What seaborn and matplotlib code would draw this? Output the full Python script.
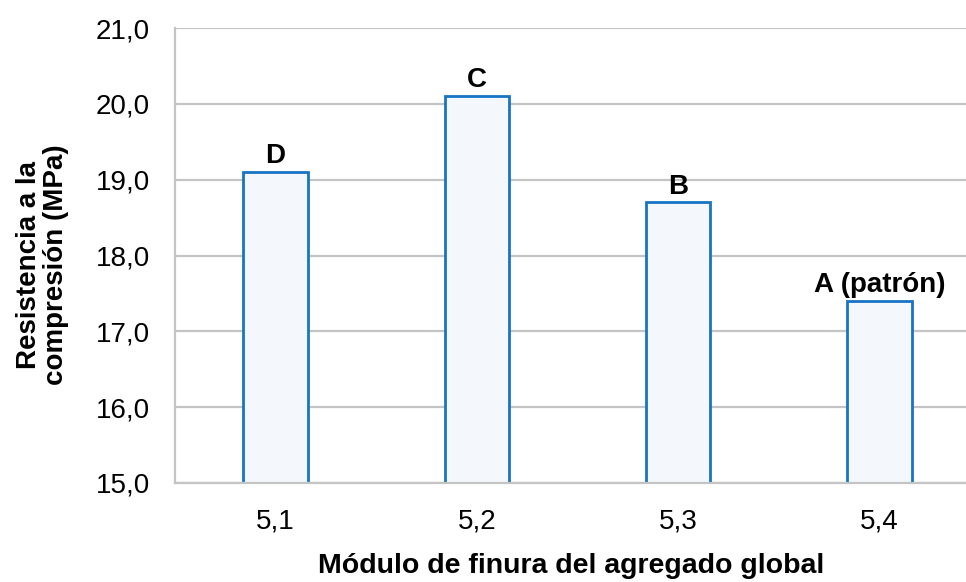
import matplotlib
matplotlib.use("Agg")
import matplotlib.pyplot as plt
import seaborn as sns
import pandas as pd

# Fineness modulus of the combined aggregate and compressive strength per mix
modulo = ["5,1", "5,2", "5,3", "5,4"]
resistencia = [19.1, 20.1, 18.7, 17.4]
mezcla = ["D", "C", "B", "A (patrón)"]
yticks = [15.0, 16.0, 17.0, 18.0, 19.0, 20.0, 21.0]

df = pd.DataFrame({"modulo": modulo, "resistencia": resistencia})

sns.set_theme(style="white")
plt.rcParams["font.family"] = ["Liberation Sans", "DejaVu Sans"]
plt.rcParams["text.color"] = "black"
plt.rcParams["axes.labelcolor"] = "black"

W, H = 966, 582
fig = plt.figure(figsize=(W / 100, H / 100), dpi=100)
ax = fig.add_axes([175 / W, 1 - 483 / H, 1 - 175 / W, (483 - 28) / H])

sns.barplot(data=df, x="modulo", y="resistencia", order=modulo, ax=ax,
            width=0.32, color="#F3F7FC", edgecolor="#1874C4", linewidth=2,
            zorder=3)

ax.set_ylim(15.0, 21.0)
ax.set_xlim(-0.5, 3.5 - 14 / 201.5)
ax.set_yticks(yticks)
ax.set_yticklabels([f"{v:.1f}".replace(".", ",") for v in yticks])

ax.yaxis.grid(True, color="#C4C4C4", linewidth=1.6, zorder=0)
ax.xaxis.grid(False)
for side in ["top", "right"]:
    ax.spines[side].set_visible(False)
for side in ["left", "bottom"]:
    ax.spines[side].set_color("#C4C4C4")
    ax.spines[side].set_linewidth(1.6)
ax.spines["bottom"].set_zorder(4)

ax.tick_params(axis="both", length=0, labelsize=20, colors="black")
ax.tick_params(axis="y", pad=18)
ax.tick_params(axis="x", pad=18)

for i, (val, lab) in enumerate(zip(resistencia, mezcla)):
    ax.annotate(lab, (i, val), xytext=(0, 2), textcoords="offset points",
                ha="center", va="bottom", fontsize=20, fontweight="bold")

ax.set_xlabel("Módulo de finura del agregado global", fontsize=20.5,
              fontweight="bold")
ax.set_ylabel("Resistencia a la\ncompresión (MPa)", fontsize=20,
              fontweight="bold", linespacing=1.05)
ax.xaxis.set_label_coords((571 - 175) / (W - 175), -(553 - 483) / (483 - 28))
ax.yaxis.set_label_coords(-(175 - 69) / (W - 175), (483 - 265) / (483 - 28))

fig.savefig("out.png", dpi=100)
